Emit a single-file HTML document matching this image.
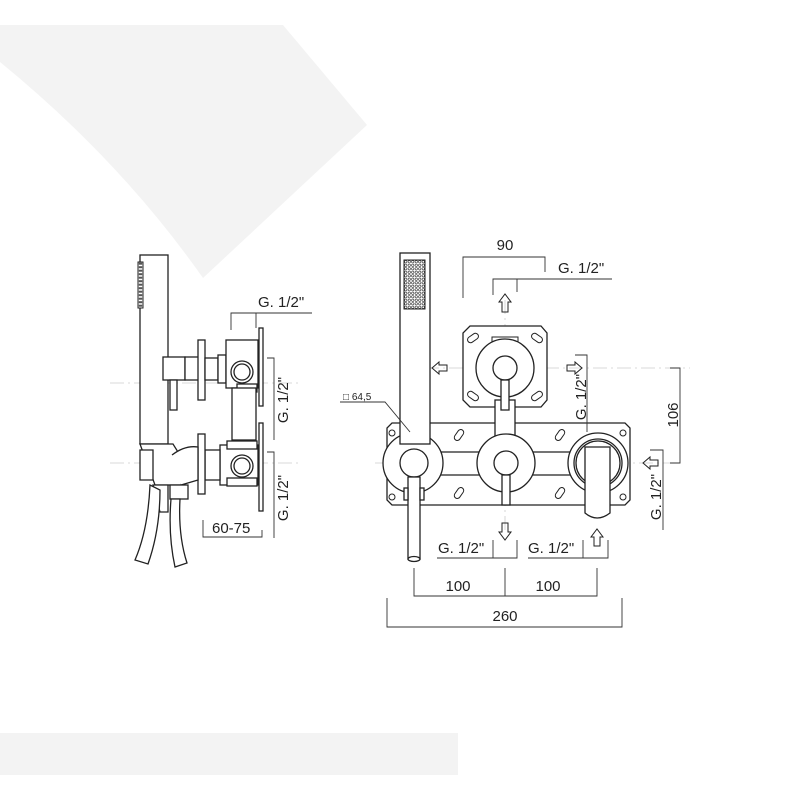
<!DOCTYPE html>
<html><head><meta charset="utf-8"><style>
html,body{margin:0;padding:0;background:#fff;width:800px;height:800px;overflow:hidden}
svg{display:block}
text{font-family:"Liberation Sans",sans-serif;fill:#222}
</style></head><body>
<svg width="800" height="800" viewBox="0 0 800 800" xmlns="http://www.w3.org/2000/svg">
<defs>
<pattern id="dots" x="404" y="260" width="3.5" height="3.5" patternUnits="userSpaceOnUse">
<rect width="3.5" height="3.5" fill="#fff"/>
<circle cx="1.75" cy="1.75" r="1.2" fill="none" stroke="#444" stroke-width="0.7"/>
</pattern>
<pattern id="dots2" x="138" y="262" width="5" height="3.5" patternUnits="userSpaceOnUse">
<rect width="5" height="3.5" fill="#fff"/>
<rect x="0.8" y="0.7" width="3.4" height="2" fill="#555"/>
</pattern>
</defs>
<path d="M0,25 L283,25 L367,125 L203,278 Q120,160 0,62 Z" fill="#f3f3f3"/>
<rect x="0" y="733" width="458" height="42" fill="#f3f3f3"/>

<g stroke="#ccc" stroke-width="0.8" stroke-dasharray="14,4,2,4" fill="none">
<line x1="110" y1="383" x2="300" y2="383"/>
<line x1="110" y1="463" x2="300" y2="463"/>
<line x1="425" y1="368" x2="690" y2="368"/>
<line x1="375" y1="463" x2="670" y2="463"/>
<line x1="505" y1="300" x2="505" y2="530"/>
</g>

<g stroke="#222" stroke-width="1.3" fill="#fff">
<!-- LEFT VIEW -->
<rect x="140" y="255" width="28" height="189"/>
<rect x="138" y="262" width="5" height="46" fill="url(#dots2)" stroke-width="1"/>
<rect x="163" y="357" width="22" height="23"/>
<rect x="185" y="357" width="14" height="23"/>
<rect x="170" y="380" width="7" height="30"/>
<rect x="198" y="340" width="7" height="60"/>
<rect x="205" y="358" width="13" height="22"/>
<rect x="218" y="355" width="8" height="28"/>
<rect x="226" y="340" width="32" height="48"/>
<circle cx="242" cy="372" r="11"/>
<circle cx="242" cy="372" r="8"/>
<rect x="237" y="384" width="20" height="8"/>
<rect x="232" y="388" width="24" height="52"/>
<rect x="259" y="328" width="4" height="78"/>
<rect x="259" y="423" width="4" height="88"/>
<rect x="220" y="445" width="38" height="40"/>
<rect x="227" y="441" width="30" height="8"/>
<rect x="227" y="478" width="30" height="8"/>
<circle cx="242" cy="466" r="11"/>
<circle cx="242" cy="466" r="8"/>
<rect x="205" y="450" width="15" height="30"/>
<rect x="198" y="434" width="7" height="60"/>
<path d="M140,444 L173,444 L183,460 L181,485 L155,485 Z"/>
<path d="M140,450 L153,450 L153,480 L140,480 Z"/>
<path d="M172,455 Q185,445 198,447 L198,480 L181,485"/>
<rect x="170" y="485" width="18" height="14"/>
<path d="M153,485 L168,485 L168,512 L160,512 Z"/>
<path d="M150,485 Q148,530 135,560 L148,564 Q160,530 160,490 Z"/>
<path d="M171,499 L180,499 Q178,535 187,563 L175,567 Q168,535 171,499 Z"/>

<!-- RIGHT VIEW -->
<path d="M392,423 L625,423 L630,428 L630,500 L625,505 L392,505 L387,500 L387,428 Z"/>
<path d="M470,326 L541,326 L547,333 L547,400 L541,407 L470,407 L463,400 L463,333 Z"/>
<rect x="492" y="337" width="26" height="5" stroke-width="1"/>
<rect x="495" y="400" width="20" height="40"/>
<line x1="440" y1="452" x2="570" y2="452"/>
<line x1="440" y1="475" x2="570" y2="475"/>
<circle cx="505" cy="368" r="29"/>
<circle cx="505" cy="368" r="12"/>
<rect x="501" y="380" width="8" height="30"/>
<circle cx="506" cy="463" r="29"/>
<circle cx="506" cy="463" r="12"/>
<rect x="502" y="475" width="8" height="30"/>
<circle cx="598" cy="463" r="30"/>
<circle cx="598" cy="463" r="24"/>
<circle cx="598" cy="463" r="22"/>
<path d="M585,447 L610,447 L610,513 Q597,523 585,513 Z"/>
<circle cx="413" cy="463" r="30"/>
<rect x="400" y="253" width="30" height="191"/>
<rect x="404" y="260" width="21" height="49" fill="url(#dots)" stroke-width="1"/>
<circle cx="414" cy="463" r="14"/>
<rect x="408" y="477" width="12" height="82"/>
<ellipse cx="414" cy="559" rx="6" ry="2.5"/>
<rect x="404" y="488" width="4" height="12"/>
<rect x="420" y="488" width="4" height="12"/>
</g>
<g stroke="#222" stroke-width="1" fill="none">
<ellipse cx="392" cy="433" rx="3" ry="3"/>
<ellipse cx="392" cy="497" rx="3" ry="3"/>
<ellipse cx="623" cy="433" rx="3" ry="3"/>
<ellipse cx="623" cy="497" rx="3" ry="3"/>
<g transform="rotate(-55 459 435)"><rect x="453" y="432" width="12" height="6" rx="3"/></g>
<g transform="rotate(-55 459 493)"><rect x="453" y="490" width="12" height="6" rx="3"/></g>
<g transform="rotate(-55 560 435)"><rect x="554" y="432" width="12" height="6" rx="3"/></g>
<g transform="rotate(-55 560 493)"><rect x="554" y="490" width="12" height="6" rx="3"/></g>
<g transform="rotate(-35 473 338)"><rect x="467" y="335" width="12" height="6" rx="3"/></g>
<g transform="rotate(35 537 338)"><rect x="531" y="335" width="12" height="6" rx="3"/></g>
<g transform="rotate(35 473 396)"><rect x="467" y="393" width="12" height="6" rx="3"/></g>
<g transform="rotate(-35 537 396)"><rect x="531" y="393" width="12" height="6" rx="3"/></g>
<!-- arrows -->
<path d="M502,312 L502,302 L499,302 L505,294 L511,302 L508,302 L508,312 Z"/>
<path d="M447,365 L439,365 L439,362 L432,368 L439,374 L439,371 L447,371 Z"/>
<path d="M567,365 L575,365 L575,362 L582,368 L575,374 L575,371 L567,371 Z"/>
<path d="M502,523 L502,532 L499,532 L505,540 L511,532 L508,532 L508,523 Z"/>
<path d="M594,546 L594,537 L591,537 L597,529 L603,537 L600,537 L600,546 Z"/>
<path d="M658,460 L650,460 L650,457 L643,463 L650,469 L650,466 L658,466 Z"/>
</g>

<g stroke="#333" stroke-width="0.9" fill="none">
<polyline points="231,330 231,313 312,313"/>
<line x1="256" y1="313" x2="256" y2="328"/>
<polyline points="267,358 274,358 274,440"/>
<polyline points="267,452 274,452 274,538"/>
<polyline points="203,520 203,537 262,537 262,530"/>
<polyline points="463,298 463,257 545,257 545,272"/>
<polyline points="493,295 493,279 612,279"/>
<line x1="517" y1="279" x2="517" y2="292"/>
<polyline points="575,355 587,355 587,432"/>
<polyline points="670,368 680,368 680,463 670,463"/>
<polyline points="650,450 663,450 663,530"/>
<polyline points="437,558 517,558 517,540"/>
<line x1="493" y1="540" x2="493" y2="558"/>
<polyline points="528,558 608,558 608,540"/>
<line x1="583" y1="540" x2="583" y2="558"/>
<polyline points="414,568 414,596 597,596 597,568"/>
<line x1="505" y1="568" x2="505" y2="596"/>
<polyline points="387,598 387,627 622,627 622,598"/>
<polyline points="340,402 385,402 410,432"/>
</g>

<g font-size="15">
<text x="258" y="307">G. 1/2"</text>
<text x="212" y="533">60-75</text>
<text transform="translate(288,400) rotate(-90)" text-anchor="middle">G. 1/2"</text>
<text transform="translate(288,498) rotate(-90)" text-anchor="middle">G. 1/2"</text>
<text x="505" y="250" text-anchor="middle">90</text>
<text x="558" y="273">G. 1/2"</text>
<text transform="translate(586,397) rotate(-90)" text-anchor="middle">G. 1/2"</text>
<text transform="translate(678,415) rotate(-90)" text-anchor="middle">106</text>
<text transform="translate(661,497) rotate(-90)" text-anchor="middle">G. 1/2"</text>
<text x="438" y="553">G. 1/2"</text>
<text x="528" y="553">G. 1/2"</text>
<text x="458" y="591" text-anchor="middle">100</text>
<text x="548" y="591" text-anchor="middle">100</text>
<text x="505" y="621" text-anchor="middle">260</text>
<text x="343" y="400" font-size="10">□ 64,5</text>
</g>
</svg>
</body></html>
